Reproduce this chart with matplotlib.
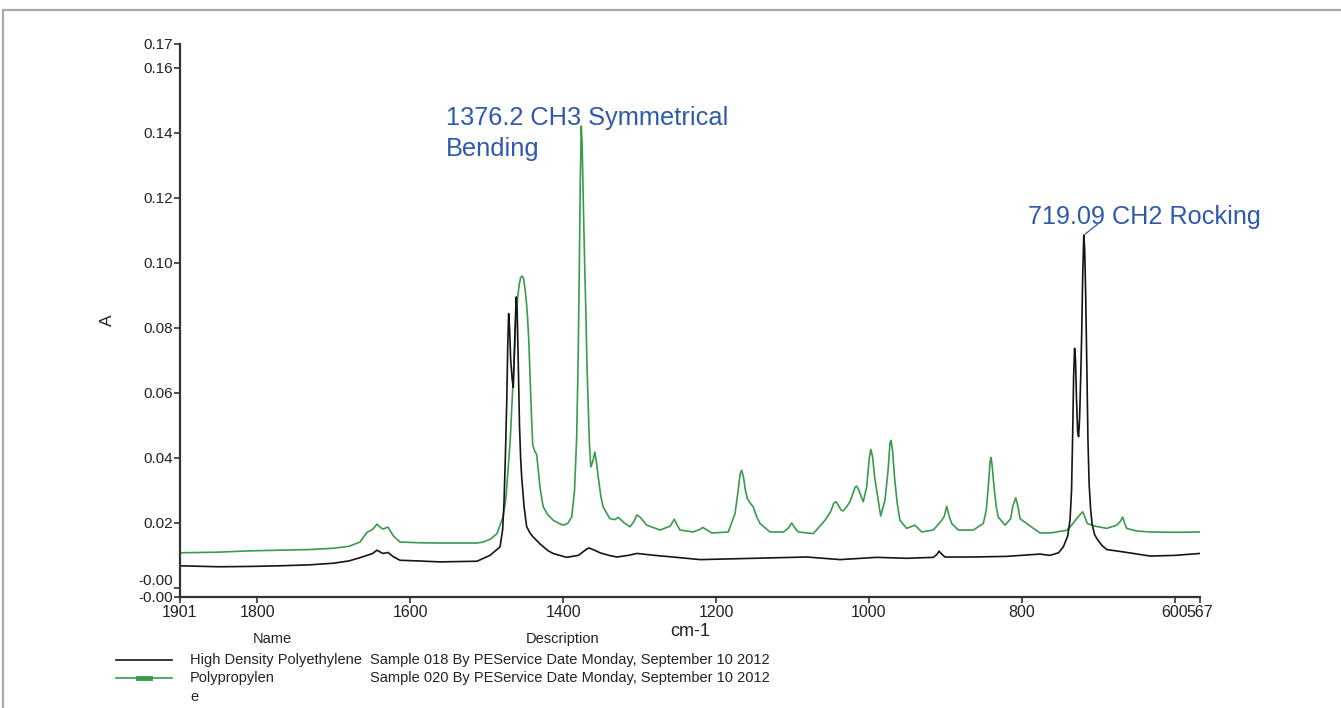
#!/usr/bin/env python3
"""FTIR overlay: HDPE vs polypropylene absorbance spectra."""
import matplotlib

matplotlib.use("Agg")
import matplotlib.pyplot as plt
from matplotlib.lines import Line2D

plt.rcParams["font.family"] = ["Liberation Sans", "DejaVu Sans"]

BLACK = "#151515"
GREEN = "#3b9a4e"
BLUE = "#2f5aab"
GRAY = "#333333"
TEXT = "#222222"

# High Density Polyethylene (wavenumber cm-1, absorbance)
hdpe_wn = [1901.0, 1850.0, 1809.5, 1770.0, 1731.0, 1700.0, 1680.0, 1665.6, 1656.4,
           1649.0, 1643.4, 1639.0, 1635.5, 1629.0, 1622.0, 1613.3, 1590.0, 1561.0,
           1512.6, 1495.6, 1482.5, 1479.0, 1477.3, 1475.5, 1473.7, 1472.3, 1471.2,
           1470.0, 1468.5, 1466.5, 1465.1, 1464.0, 1462.5, 1461.2, 1460.0, 1458.5,
           1457.0, 1455.5, 1454.1, 1451.0, 1447.6, 1443.0, 1439.3, 1430.0, 1420.0,
           1413.2, 1395.3, 1380.0, 1370.0, 1366.1, 1359.0, 1351.7, 1340.0, 1329.5,
           1315.0, 1303.3, 1280.0, 1256.2, 1220.9, 1168.6, 1081.4, 1037.8, 989.8,
           950.6, 915.8, 911.0, 908.3, 904.0, 900.5, 863.9, 819.8, 776.3, 763.2,
           752.0, 745.8, 740.0, 737.0, 735.0, 733.5, 732.3, 731.0, 729.8, 728.5,
           727.0, 725.8, 724.5, 723.0, 721.7, 720.5, 719.0, 717.8, 716.5, 715.0,
           713.5, 712.0, 710.0, 708.0, 705.0, 702.1, 695.0, 689.0, 668.1, 632.4,
           600.0, 567.0]
hdpe_abs = [0.0068, 0.0065, 0.0066, 0.0068, 0.0071, 0.0076, 0.0083, 0.0093, 0.0100,
            0.0106, 0.0116, 0.0110, 0.0106, 0.0109, 0.0096, 0.0085, 0.0083, 0.0080,
            0.0082, 0.0100, 0.0126, 0.0180, 0.0260, 0.0400, 0.0570, 0.0750, 0.0844,
            0.0800, 0.0700, 0.0640, 0.0617, 0.0700, 0.0820, 0.0895, 0.0850, 0.0680,
            0.0500, 0.0400, 0.0340, 0.0250, 0.0188, 0.0168, 0.0157, 0.0135, 0.0115,
            0.0106, 0.0094, 0.0100, 0.0118, 0.0123, 0.0116, 0.0108, 0.0100, 0.0095,
            0.0100, 0.0106, 0.0100, 0.0095, 0.0087, 0.0090, 0.0095, 0.0087, 0.0094,
            0.0091, 0.0094, 0.0103, 0.0113, 0.0102, 0.0095, 0.0095, 0.0097, 0.0104,
            0.0100, 0.0108, 0.0126, 0.0160, 0.0208, 0.0300, 0.0476, 0.0650, 0.0737,
            0.0700, 0.0580, 0.0480, 0.0465, 0.0520, 0.0650, 0.0783, 0.0950, 0.1085,
            0.1040, 0.0900, 0.0680, 0.0450, 0.0320, 0.0240, 0.0195, 0.0165, 0.0152,
            0.0130, 0.0118, 0.0111, 0.0098, 0.0100, 0.0106]

# Polypropylene
pp_wn = [1901.0, 1850.0, 1809.5, 1770.0, 1731.0, 1700.0, 1680.0, 1665.6, 1656.4,
         1649.0, 1643.4, 1639.0, 1635.5, 1629.0, 1622.0, 1613.3, 1590.0, 1561.0,
         1512.6, 1504.7, 1495.0, 1486.4, 1478.6, 1475.0, 1472.0, 1469.0, 1466.8,
         1464.0, 1461.6, 1459.5, 1457.6, 1455.5, 1453.3, 1451.5, 1449.8, 1448.0,
         1446.7, 1445.0, 1443.3, 1441.5, 1439.7, 1437.0, 1434.5, 1432.0, 1430.2,
         1427.5, 1425.9, 1420.0, 1412.8, 1405.0, 1399.7, 1394.0, 1388.7, 1385.0,
         1382.2, 1380.3, 1378.8, 1377.5, 1376.2, 1375.0, 1373.5, 1371.8, 1370.2,
         1368.7, 1367.2, 1365.5, 1363.7, 1361.0, 1358.5, 1356.5, 1354.1, 1350.5,
         1347.6, 1338.8, 1332.0, 1328.0, 1320.0, 1312.5, 1307.0, 1303.7, 1299.4,
         1290.6, 1273.2, 1260.0, 1254.5, 1250.0, 1247.1, 1230.1, 1221.0, 1217.4,
         1213.0, 1205.6, 1183.9, 1175.1, 1171.0, 1168.5, 1166.4, 1164.0, 1161.5,
         1159.1, 1155.0, 1151.2, 1147.0, 1142.4, 1129.4, 1111.9, 1105.0, 1101.0,
         1097.0, 1092.4, 1072.7, 1057.4, 1050.0, 1046.0, 1043.1, 1039.0, 1036.0,
         1033.5, 1029.0, 1024.8, 1021.0, 1018.0, 1016.0, 1013.0, 1010.0, 1007.4,
         1002.9, 999.5, 997.5, 995.0, 992.5, 989.8, 984.6, 979.0, 975.0, 972.5,
         971.0, 969.0, 966.5, 963.0, 959.4, 950.6, 939.7, 931.0, 915.8, 904.8,
         901.5, 898.3, 895.0, 891.7, 883.1, 863.5, 850.4, 846.5, 843.9, 841.5,
         840.3, 839.0, 836.4, 833.5, 830.8, 822.0, 814.6, 812.0, 808.0, 805.0,
         802.4, 793.7, 776.3, 763.2, 741.3, 734.8, 728.3, 724.0, 720.4, 717.0,
         714.4, 704.3, 689.0, 675.9, 671.0, 668.1, 665.0, 662.8, 650.0, 632.4,
         600.0, 567.0]
pp_abs = [0.0108, 0.0110, 0.0114, 0.0116, 0.0118, 0.0122, 0.0128, 0.0141, 0.0171,
          0.0180, 0.0196, 0.0186, 0.0181, 0.0187, 0.0160, 0.0141, 0.0139, 0.0138,
          0.0138, 0.0141, 0.0150, 0.0167, 0.0218, 0.0270, 0.0362, 0.0460, 0.0568,
          0.0700, 0.0824, 0.0890, 0.0930, 0.0955, 0.0959, 0.0950, 0.0920, 0.0880,
          0.0840, 0.0770, 0.0660, 0.0540, 0.0440, 0.0420, 0.0410, 0.0350, 0.0310,
          0.0270, 0.0249, 0.0225, 0.0208, 0.0198, 0.0193, 0.0198, 0.0218, 0.0300,
          0.0465, 0.0700, 0.0977, 0.1250, 0.1420, 0.1360, 0.1180, 0.1000, 0.0850,
          0.0680, 0.0567, 0.0440, 0.0372, 0.0390, 0.0418, 0.0390, 0.0342, 0.0280,
          0.0249, 0.0213, 0.0210, 0.0217, 0.0200, 0.0188, 0.0205, 0.0224, 0.0218,
          0.0193, 0.0178, 0.0190, 0.0211, 0.0190, 0.0178, 0.0172, 0.0180, 0.0186,
          0.0180, 0.0169, 0.0172, 0.0229, 0.0300, 0.0350, 0.0362, 0.0340, 0.0300,
          0.0275, 0.0260, 0.0249, 0.0220, 0.0198, 0.0172, 0.0172, 0.0185, 0.0200,
          0.0185, 0.0172, 0.0167, 0.0208, 0.0235, 0.0260, 0.0265, 0.0250, 0.0238,
          0.0237, 0.0250, 0.0265, 0.0290, 0.0310, 0.0313, 0.0300, 0.0280, 0.0265,
          0.0311, 0.0400, 0.0426, 0.0400, 0.0340, 0.0300, 0.0221, 0.0270, 0.0360,
          0.0445, 0.0454, 0.0420, 0.0340, 0.0260, 0.0208, 0.0183, 0.0193, 0.0172,
          0.0178, 0.0208, 0.0220, 0.0251, 0.0220, 0.0198, 0.0178, 0.0178, 0.0198,
          0.0240, 0.0311, 0.0390, 0.0401, 0.0380, 0.0311, 0.0250, 0.0218, 0.0193,
          0.0213, 0.0250, 0.0277, 0.0250, 0.0213, 0.0198, 0.0169, 0.0169, 0.0177,
          0.0193, 0.0213, 0.0225, 0.0234, 0.0215, 0.0198, 0.0190, 0.0183, 0.0193,
          0.0205, 0.0218, 0.0195, 0.0183, 0.0175, 0.0172, 0.0171, 0.0172]

x_ticks = [1901, 1800, 1600, 1400, 1200, 1000, 800, 600, 567]
y_ticks = [-0.0028, 0.0, 0.02, 0.04, 0.06, 0.08, 0.10, 0.12, 0.14, 0.16, 0.1673]
y_labels = ["-0.00", "-0.00", "0.02", "0.04", "0.06", "0.08", "0.10", "0.12",
            "0.14", "0.16", "0.17"]

names = ["High Density Polyethylene", "Polypropylen"]
descriptions = ["Sample 018 By PEService Date Monday, September 10 2012",
                "Sample 020 By PEService Date Monday, September 10 2012"]


def fy(py):
    return 1 - py / 708


def fx(px):
    return px / 1341


def main() -> None:
    fig = plt.figure(figsize=(13.41, 7.08), dpi=100)
    ax = fig.add_axes([fx(180), fy(597), 1020 / 1341, 553 / 708])

    ax.plot(pp_wn, pp_abs, color=GREEN, linewidth=1.2)
    ax.plot(hdpe_wn, hdpe_abs, color=BLACK, linewidth=1.2)

    ax.set_xlim(1901, 567)
    ax.set_ylim(-0.0028, 0.1673)
    ax.set_xticks(x_ticks)
    ax.set_xticklabels([str(t) for t in x_ticks])
    ax.set_yticks(y_ticks)
    ax.set_yticklabels(y_labels)
    ax.tick_params(axis="both", direction="out", length=4, width=1.2, colors=GRAY,
                   labelcolor=TEXT)
    ax.tick_params(axis="x", labelsize=11.5, pad=2)
    ax.tick_params(axis="y", labelsize=11, pad=1)
    # the zero label sits a little above its tick, as in the source software
    ax.get_yticklabels()[1].set_va("bottom")
    for side in ("top", "right"):
        ax.spines[side].set_visible(False)
    for side in ("left", "bottom"):
        ax.spines[side].set_linewidth(1.6)
        ax.spines[side].set_color(GRAY)

    ax.set_ylabel("A", fontsize=12.5, color=TEXT, labelpad=17)
    ax.set_xlabel("cm-1", fontsize=13, color=TEXT, labelpad=2)

    # peak labels
    pp_peak = pp_abs.index(max(pp_abs))
    ax.text(1553, 0.1482, f"{pp_wn[pp_peak]:.1f} CH3 Symmetrical\nBending",
            fontsize=18.3, color=BLUE, va="top", ha="left", linespacing=1.38)
    pe_peak = hdpe_abs.index(max(hdpe_abs))
    ax.annotate("719.09 CH2 Rocking", xy=(hdpe_wn[pe_peak], hdpe_abs[pe_peak]),
                xytext=(792, 0.1140), fontsize=18.2, color=BLUE, va="center", ha="left",
                arrowprops={"arrowstyle": "-", "color": BLUE, "linewidth": 0.9,
                            "relpos": (0.3, 0.22), "patchA": None,
                            "shrinkA": 0, "shrinkB": 1})

    # legend table below the axes
    fig.text(fx(272), fy(639), "Name", fontsize=10.5, ha="center", va="center", color=TEXT)
    fig.text(fx(563), fy(639), "Description", fontsize=10.5, ha="center", va="center", color=TEXT)
    rows = [660, 678]
    colors = [BLACK, GREEN]
    for py, name, desc, col in zip(rows, names, descriptions, colors):
        fig.add_artist(Line2D([fx(116), fx(172)], [fy(py), fy(py)], color=col, linewidth=1.2))
        fig.text(fx(190), fy(py), name, fontsize=10.5, ha="left", va="center", color=TEXT)
        fig.text(fx(370), fy(py), desc, fontsize=10.5, ha="left", va="center", color=TEXT)
    fig.add_artist(Line2D([fx(138), fx(150)], [fy(678), fy(678)], color=GREEN, linewidth=3.5))
    fig.text(fx(190), fy(697), "e", fontsize=10.5, ha="left", va="center", color=TEXT)

    # page border
    fig.add_artist(Line2D([fx(3), 1.0], [fy(10), fy(10)], color="#aaaaaa", linewidth=1.6))
    fig.add_artist(Line2D([fx(3), fx(3)], [fy(10), 0.0], color="#aaaaaa", linewidth=1.6))

    fig.savefig("out.png", dpi=100)
    plt.close(fig)


if __name__ == "__main__":
    main()
